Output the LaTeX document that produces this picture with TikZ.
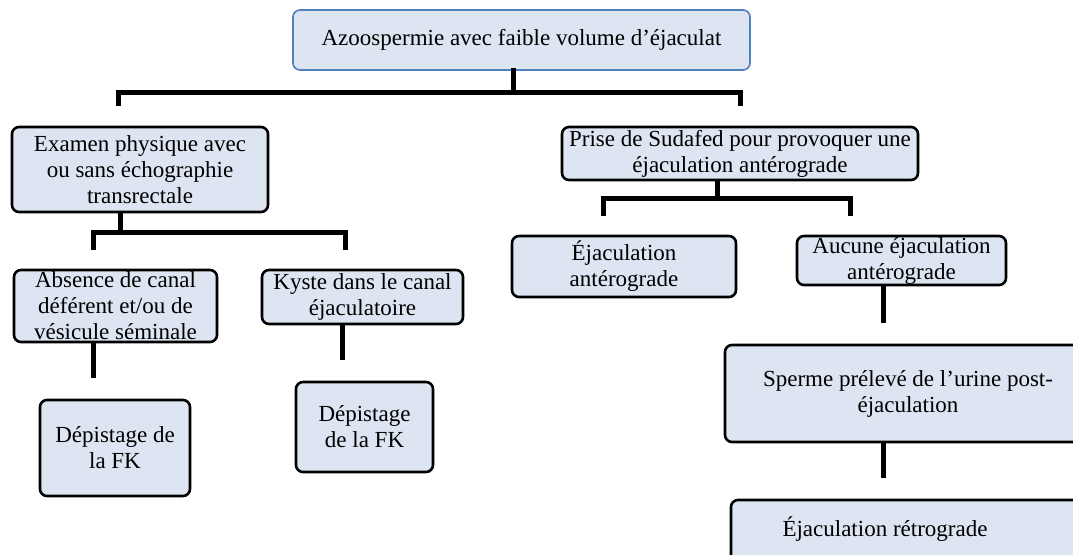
\documentclass[tikz,border=0pt]{standalone}
\usepackage{fontspec}
\setmainfont{Liberation Serif}
\usetikzlibrary{calc}
\definecolor{boxfill}{HTML}{DCE5F1}
\definecolor{topborder}{HTML}{4F81BD}
\tikzset{
  box/.style={draw=black, line width=2.6pt, fill=boxfill, rounded corners=7pt,
    align=center, inner sep=1pt, font=\fontsize{23}{26}\selectfont},
  topbox/.style={box, draw=topborder, line width=1.6pt},
  conn/.style={draw=black, line width=5pt, line cap=rect}
}
\begin{document}
\begin{tikzpicture}[x=1pt,y=-1pt]
\useasboundingbox (0,0) rectangle (1073,554);
\clip (0,0) rectangle (1073,554);
% nodes
\node[topbox, minimum width=457, minimum height=60] (top) at (521.5,40) {Azoospermie avec faible volume d’éjaculat};
\node[box, minimum width=256, minimum height=85] (exam) at (140,169.5) {Examen physique avec\\ou sans échographie\\transrectale};
\node[box, minimum width=356, minimum height=53] (prise) at (740,153.5) {Prise de Sudafed  pour provoquer une\\éjaculation antérograde};
\node[box, minimum width=203, minimum height=72] (abs) at (115.5,306) {Absence de canal\\déférent et/ou de\\vésicule séminale};
\node[box, minimum width=201, minimum height=54] (kyste) at (362.5,297) {Kyste dans le canal\\éjaculatoire};
\node[box, minimum width=150, minimum height=96] (dep1) at (115,448) {Dépistage de\\la FK};
\node[box, minimum width=137, minimum height=90] (dep2) at (364.5,427) {Dépistage\\de la FK};
\node[box, minimum width=224, minimum height=61] (ejac) at (624,266.5) {Éjaculation\\antérograde};
\node[box, minimum width=209, minimum height=49] (aucune) at (901.5,260.5) {Aucune éjaculation\\antérograde};
\node[box, minimum width=366, minimum height=97] (sperme) at (908,393.5) {Sperme prélevé de l’urine post-\\éjaculation};
\node[box, minimum width=366, minimum height=80] (retro) at (914,540) {};
\node[font=\fontsize{23}{26}\selectfont] (retrotxt) at (885,529) {Éjaculation  rétrograde};
% connectors
\coordinate (b1) at (118,103);
\coordinate (b2) at (740,103);
\draw[conn] (top.south -| 513,0) -- (513,92);
\draw[conn] (b1) -- (118,92) -- (740,92) -- (b2);

\coordinate (c1) at (93,247);
\coordinate (c2) at (345,247);
\draw[conn] (exam.south -| 120,0) -- (120,232);
\draw[conn] (c1) -- (93,232) -- (345,232) -- (c2);

\coordinate (e1) at (603,213);
\coordinate (e2) at (850,213);
\draw[conn] (prise.south -| 717,0) -- (717,198);
\draw[conn] (e1) -- (603,198) -- (850,198) -- (e2);

\coordinate (f1) at (93,375);
\draw[conn] (abs.south -| 93,0) -- (f1);
\coordinate (f2) at (342,357);
\draw[conn] (kyste.south -| 342,0) -- (f2);
\coordinate (f3) at (883,320);
\draw[conn] (aucune.south -| 883,0) -- (f3);
\coordinate (f4) at (883,475);
\draw[conn] (sperme.south -| 883,0) -- (f4);
\end{tikzpicture}
\end{document}
